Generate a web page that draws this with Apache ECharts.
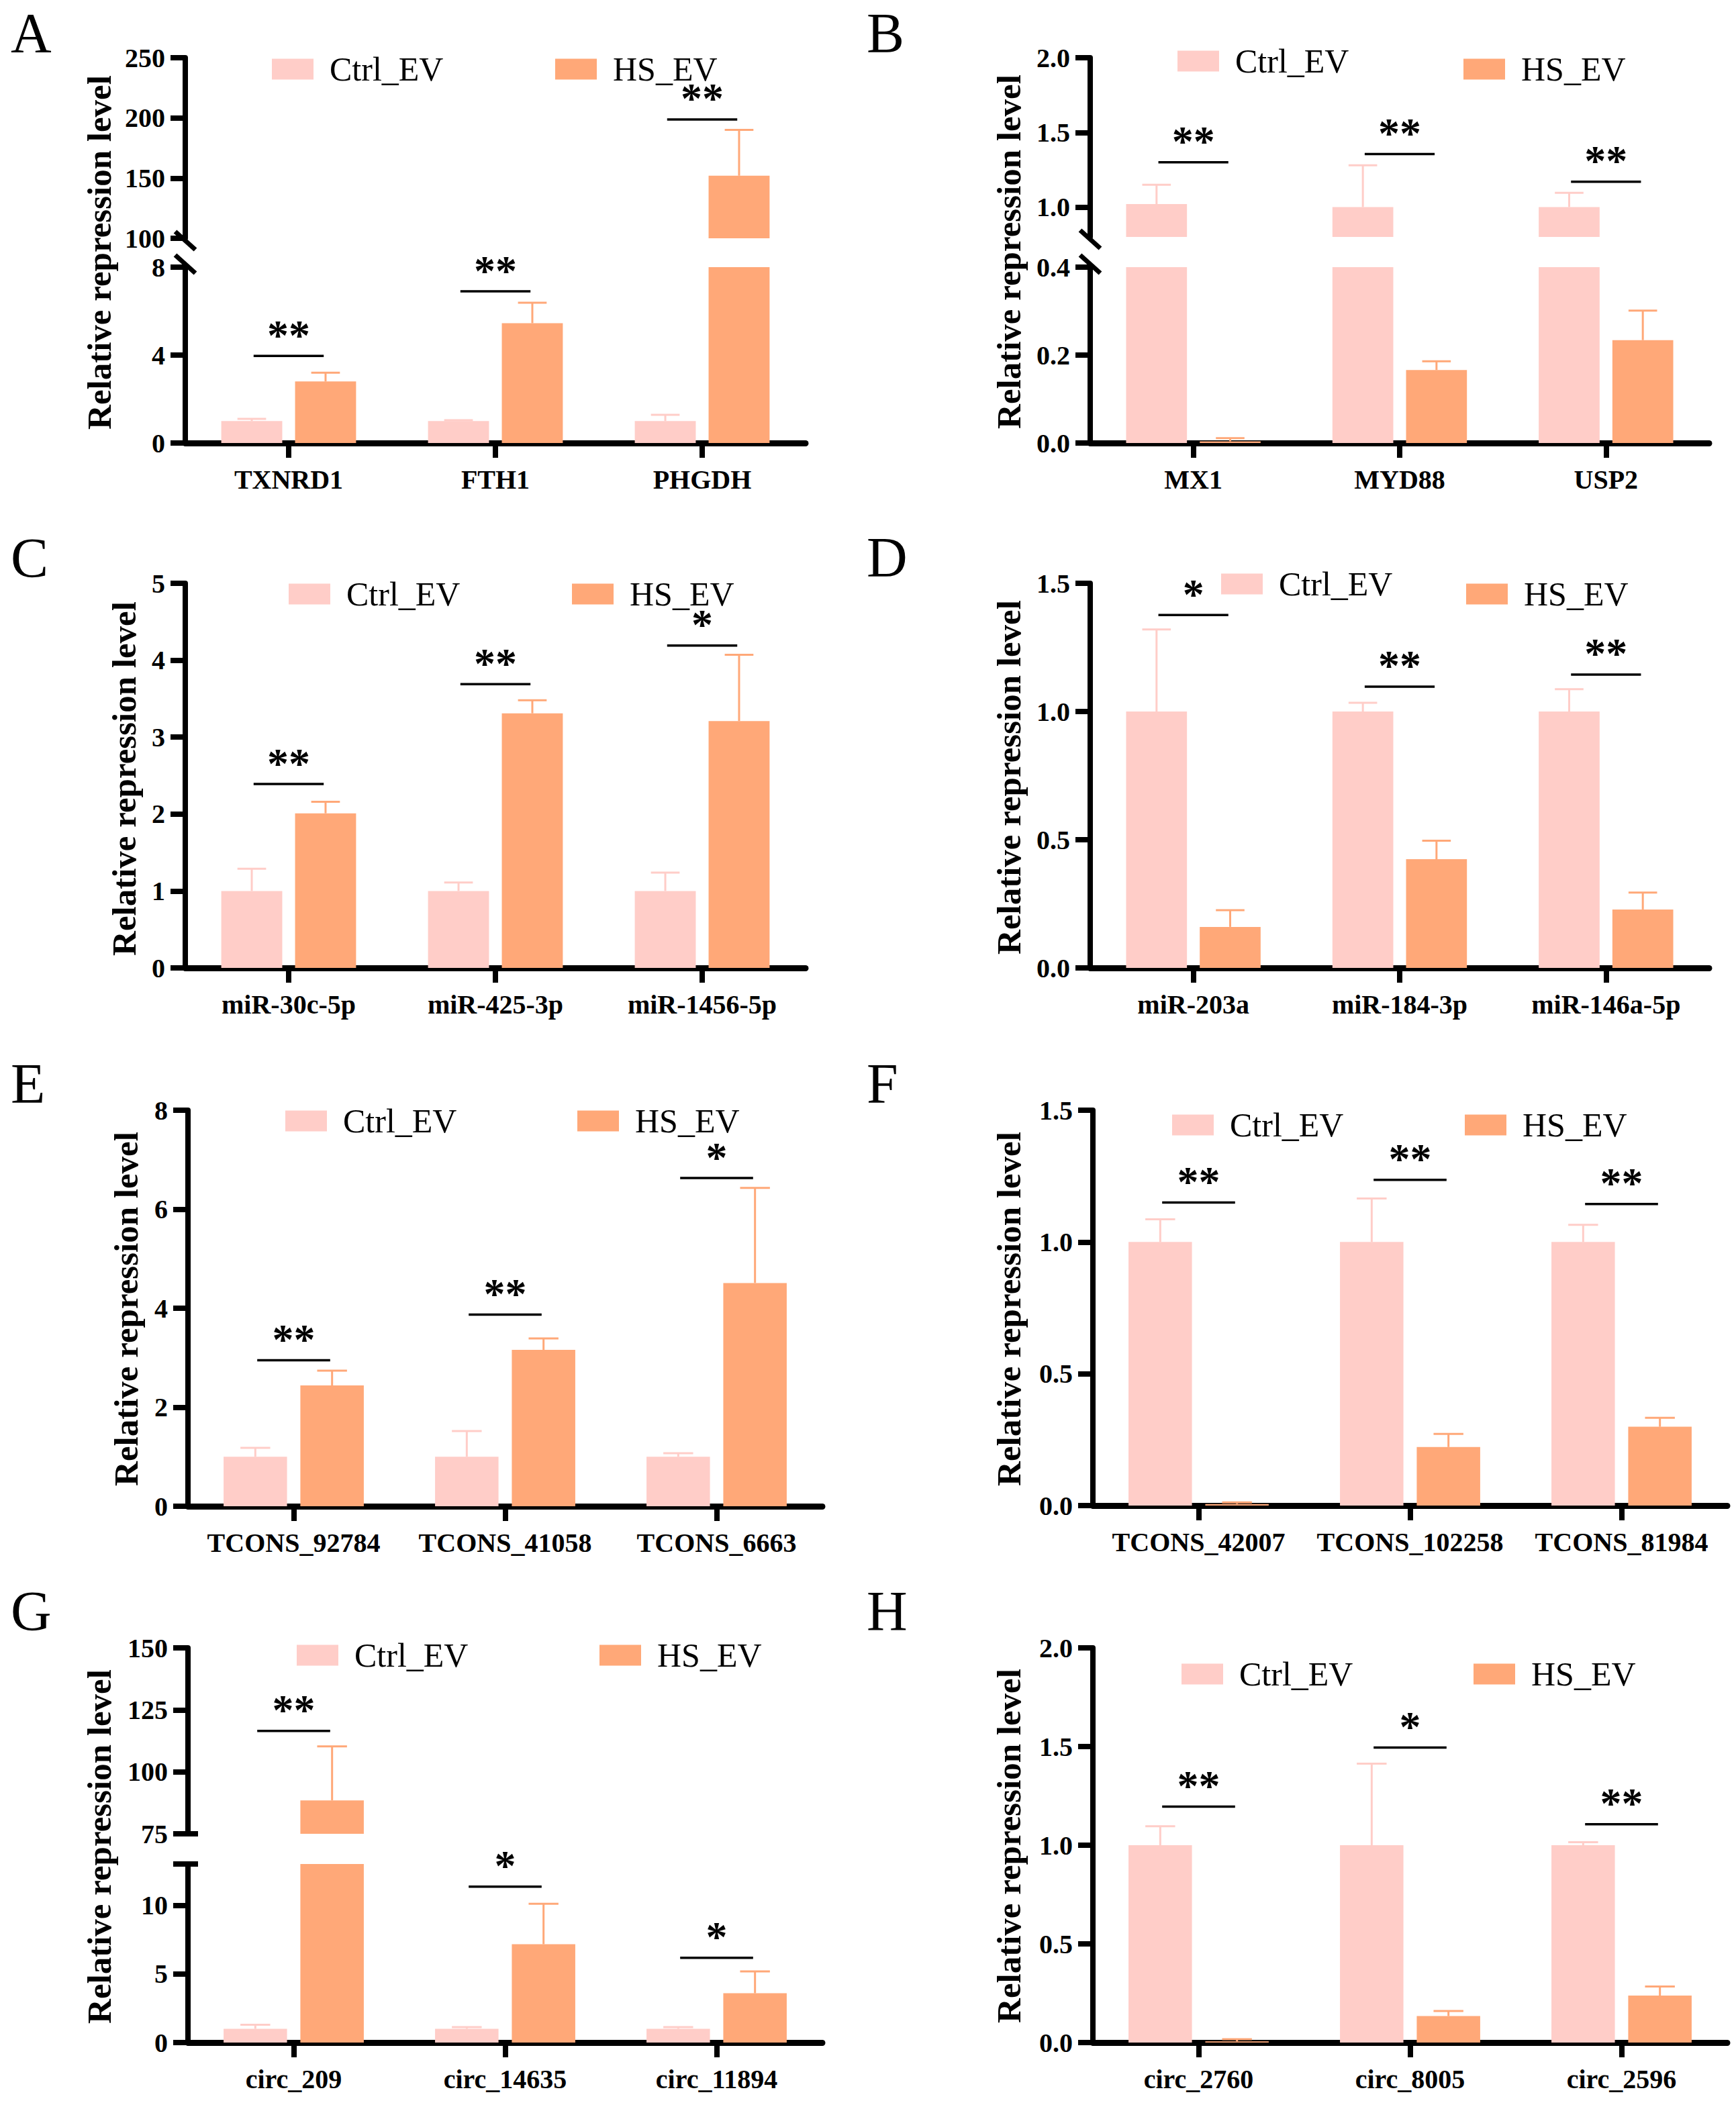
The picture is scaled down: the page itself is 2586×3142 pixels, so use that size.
<!DOCTYPE html>
<html>
<head>
<meta charset="utf-8">
<script src="https://cdn.jsdelivr.net/npm/echarts@6.0.0/dist/echarts.min.js"></script>
<style>
  html, body { margin: 0; padding: 0; background: #fff; }
  #chart { width: 2586px; height: 3142px; }
</style>
</head>
<body>
<div id="chart"></div>
<script>
const SERIF = '"Liberation Serif", "Times New Roman", serif';
const CTRL_COLOR = '#FFCDC8';
const HS_COLOR = '#FFA878';
const SERIES_NAMES = ['Ctrl_EV', 'HS_EV'];
const Y_TITLE = 'Relative repression level';

// ---- data ----
const catsA = ['TXNRD1', 'FTH1', 'PHGDH'];
const ctrlA = [1.0, 1.0, 1.0];
const ctrlErrA = [0.10, 0.04, 0.28];
const hsA = [2.8, 5.45, 152];
const hsErrA = [0.4, 0.93, 38];
const sigA = [3.96, 6.9, 198.7];
const starsA = ['**', '**', '**'];

const catsB = ['MX1', 'MYD88', 'USP2'];
const ctrlB = [1.02, 1.0, 1.0];
const ctrlErrB = [0.13, 0.28, 0.095];
const hsB = [0.004, 0.166, 0.234];
const hsErrB = [0.007, 0.02, 0.067];
const sigB = [1.3, 1.355, 1.17];
const starsB = ['**', '**', '**'];

const catsC = ['miR-30c-5p', 'miR-425-3p', 'miR-1456-5p'];
const ctrlC = [1.0, 1.0, 1.0];
const ctrlErrC = [0.29, 0.11, 0.24];
const hsC = [2.01, 3.31, 3.21];
const hsErrC = [0.15, 0.17, 0.86];
const sigC = [2.39, 3.69, 4.19];
const starsC = ['**', '**', '*'];

const catsD = ['miR-203a', 'miR-184-3p', 'miR-146a-5p'];
const ctrlD = [1.0, 1.0, 1.0];
const ctrlErrD = [0.32, 0.034, 0.087];
const hsD = [0.16, 0.424, 0.228];
const hsErrD = [0.065, 0.072, 0.066];
const sigD = [1.376, 1.097, 1.144];
const starsD = ['*', '**', '**'];

const catsE = ['TCONS_92784', 'TCONS_41058', 'TCONS_6663'];
const ctrlE = [1.0, 1.0, 1.0];
const ctrlErrE = [0.18, 0.52, 0.07];
const hsE = [2.44, 3.16, 4.51];
const hsErrE = [0.3, 0.23, 1.92];
const sigE = [2.95, 3.87, 6.63];
const starsE = ['**', '**', '*'];

const catsF = ['TCONS_42007', 'TCONS_102258', 'TCONS_81984'];
const ctrlF = [1.0, 1.0, 1.0];
const ctrlErrF = [0.086, 0.165, 0.065];
const hsF = [0.006, 0.222, 0.299];
const hsErrF = [0.006, 0.05, 0.034];
const sigF = [1.15, 1.236, 1.144];
const starsF = ['**', '**', '**'];

const catsG = ['circ_209', 'circ_14635', 'circ_11894'];
const ctrlG = [1.0, 1.0, 1.0];
const ctrlErrG = [0.3, 0.12, 0.12];
const hsG = [88.5, 7.16, 3.59];
const hsErrG = [21.8, 2.94, 1.59];
const sigG = [116.5, 11.35, 6.17];
const starsG = ['**', '*', '*'];

const catsH = ['circ_2760', 'circ_8005', 'circ_2596'];
const ctrlH = [1.0, 1.0, 1.0];
const ctrlErrH = [0.096, 0.413, 0.015];
const hsH = [0.006, 0.134, 0.238];
const hsErrH = [0.011, 0.026, 0.046];
const sigH = [1.196, 1.495, 1.106];
const starsH = ['**', '*', '**'];

// ---- layout (pixels) ----
const panels = [
  { letter: 'A', cats: catsA, ctrl: ctrlA, ctrlErr: ctrlErrA, hs: hsA, hsErr: hsErrA, sig: sigA, stars: starsA,
    left: 276, width: 924, bar: 0.295, letterAt: [16, 49], titleAt: [148, 376], legend: [[400, 99], [822, 99]],
    brk: 'slash',
    axes: [{ top: 86, bottom: 355, min: 100, max: 250, interval: 50, d: 0 },
           { top: 398, bottom: 660, min: 0, max: 8, interval: 4, d: 0 }] },
  { letter: 'B', cats: catsB, ctrl: ctrlB, ctrlErr: ctrlErrB, hs: hsB, hsErr: hsErrB, sig: sigB, stars: starsB,
    left: 1624, width: 922, bar: 0.295, letterAt: [1291, 49], titleAt: [1503, 375], legend: [[1749, 87], [2175, 99]],
    brk: 'slash',
    axes: [{ top: 86, bottom: 353, min: 0.8, max: 2.0, labels: [1.0, 1.5, 2.0], ticks: [1.0, 1.5, 2.0], d: 1 },
           { top: 398, bottom: 660, min: 0, max: 0.4, interval: 0.2, d: 1 }] },
  { letter: 'C', cats: catsC, ctrl: ctrlC, ctrlErr: ctrlErrC, hs: hsC, hsErr: hsErrC, sig: sigC, stars: starsC,
    left: 276, width: 924, bar: 0.295, letterAt: [16, 831], titleAt: [185, 1160], legend: [[425, 881], [847, 881]],
    axes: [{ top: 869, bottom: 1442, min: 0, max: 5, interval: 1, d: 0 }] },
  { letter: 'D', cats: catsD, ctrl: ctrlD, ctrlErr: ctrlErrD, hs: hsD, hsErr: hsErrD, sig: sigD, stars: starsD,
    left: 1624, width: 922, bar: 0.295, letterAt: [1291, 830], titleAt: [1503, 1158], legend: [[1814, 866], [2179, 881]],
    axes: [{ top: 869, bottom: 1442, min: 0, max: 1.5, interval: 0.5, d: 1 }] },
  { letter: 'E', cats: catsE, ctrl: ctrlE, ctrlErr: ctrlErrE, hs: hsE, hsErr: hsErrE, sig: sigE, stars: starsE,
    left: 280, width: 945, bar: 0.3, letterAt: [16, 1614], titleAt: [188, 1950], legend: [[420, 1666], [855, 1666]],
    axes: [{ top: 1654, bottom: 2244, min: 0, max: 8, interval: 2, d: 0 }] },
  { letter: 'F', cats: catsF, ctrl: ctrlF, ctrlErr: ctrlErrF, hs: hsF, hsErr: hsErrF, sig: sigF, stars: starsF,
    left: 1628, width: 945, bar: 0.3, letterAt: [1291, 1614], titleAt: [1503, 1950], legend: [[1741, 1672], [2177, 1672]],
    axes: [{ top: 1654, bottom: 2243, min: 0, max: 1.5, interval: 0.5, d: 1 }] },
  { letter: 'G', cats: catsG, ctrl: ctrlG, ctrlErr: ctrlErrG, hs: hsG, hsErr: hsErrG, sig: sigG, stars: starsG,
    left: 280, width: 945, bar: 0.3, letterAt: [16, 2400], titleAt: [148, 2751], legend: [[437, 2462], [888, 2462]],
    brk: 'cap',
    axes: [{ top: 2455, bottom: 2732, min: 75, max: 150, interval: 25, d: 0 },
           { top: 2777, bottom: 3043, min: 0, max: 13, labels: [0, 5, 10], ticks: [0, 5, 10, 13], d: 0 }] },
  { letter: 'H', cats: catsH, ctrl: ctrlH, ctrlErr: ctrlErrH, hs: hsH, hsErr: hsErrH, sig: sigH, stars: starsH,
    left: 1628, width: 945, bar: 0.3, letterAt: [1291, 2400], titleAt: [1503, 2750], legend: [[1755, 2490], [2190, 2490]],
    axes: [{ top: 2455, bottom: 3043, min: 0, max: 2.0, interval: 0.5, d: 1 }] }
];

const BAR_GAP = 0.21;

const grid = [], xAxis = [], yAxis = [], series = [], legend = [], graphic = [];

function errRenderer(frac) {
  return function (params, api) {
    const cat = api.value(0), v = api.value(1), e = api.value(2), side = api.value(3);
    const bw = api.size([1, 0])[0] * frac;
    const x = api.coord([cat, v])[0] + side * bw * (1 + BAR_GAP) / 2;
    const y0 = api.coord([cat, v])[1];
    const y1 = api.coord([cat, v + e])[1];
    const cap = bw * 0.235;
    const color = side < 0 ? CTRL_COLOR : HS_COLOR;
    return {
      type: 'group',
      children: [
        { type: 'line', shape: { x1: x, y1: y0, x2: x, y2: y1 }, style: { stroke: color, lineWidth: 3 } },
        { type: 'line', shape: { x1: x - cap, y1: y1, x2: x + cap, y2: y1 }, style: { stroke: color, lineWidth: 3 } }
      ]
    };
  };
}

function sigRenderer(frac, stars) {
  return function (params, api) {
    const cat = api.value(0), lv = api.value(1);
    const bw = api.size([1, 0])[0] * frac;
    const off = bw * (1 + BAR_GAP) / 2 * 0.95;
    const p = api.coord([cat, lv]);
    return {
      type: 'group',
      children: [
        { type: 'line', shape: { x1: p[0] - off, y1: p[1], x2: p[0] + off, y2: p[1] }, style: { stroke: '#000', lineWidth: 3.5 } },
        { type: 'text', x: p[0], y: p[1] - 31,
          style: { text: stars[cat], font: 'bold 64px ' + SERIF, lineHeight: 30, fill: '#000', align: 'center', verticalAlign: 'middle' } }
      ]
    };
  };
}

panels.forEach(pn => {
  const n = pn.axes.length;
  pn.axes.forEach((ax, k) => {
    const g = grid.length;
    const isBottom = k === n - 1;
    grid.push({ left: pn.left, top: ax.top, width: pn.width, height: ax.bottom - ax.top, outerBoundsMode: 'none' });
    xAxis.push({
      gridIndex: g, type: 'category', data: pn.cats, show: isBottom,
      axisLine: { show: true, lineStyle: { color: '#000', width: 9 } },
      axisTick: { show: true, alignWithLabel: true, length: 22, lineStyle: { color: '#000', width: 8 } },
      axisLabel: { color: '#000', fontFamily: SERIF, fontWeight: 'bold', fontSize: 40, margin: 34,
        interval: 0, hideOverlap: false },
      splitLine: { show: false }
    });
    const ya = {
      gridIndex: g, type: 'value', min: ax.min, max: ax.max,
      axisLine: { show: true, lineStyle: { color: '#000', width: 8 } },
      axisTick: { show: true, length: 22, lineStyle: { color: '#000', width: 8 } },
      axisLabel: { color: '#000', fontFamily: SERIF, fontWeight: 'bold', fontSize: 40, margin: 30,
        formatter: v => Number(v).toFixed(ax.d) },
      splitLine: { show: false }
    };
    if (ax.labels) {
      ya.axisLabel.customValues = ax.labels;
      ya.axisTick.customValues = ax.ticks;
    } else {
      ya.interval = ax.interval;
    }
    yAxis.push(ya);

    const inRange = v => v >= ax.min && v <= ax.max;
    const barData = arr => arr.map(v => (k < n - 1 && v <= ax.min) ? '-' : v);
    series.push({ name: SERIES_NAMES[0], type: 'bar', xAxisIndex: g, yAxisIndex: g, data: barData(pn.ctrl),
      barWidth: (pn.bar * 100) + '%', barGap: (BAR_GAP * 100) + '%', clip: true, silent: true,
      itemStyle: { color: CTRL_COLOR } });
    series.push({ name: SERIES_NAMES[1], type: 'bar', xAxisIndex: g, yAxisIndex: g, data: barData(pn.hs),
      barWidth: (pn.bar * 100) + '%', barGap: (BAR_GAP * 100) + '%', clip: true, silent: true,
      itemStyle: { color: HS_COLOR } });

    const errData = [];
    pn.ctrl.forEach((v, i) => { if (inRange(v)) errData.push([i, v, pn.ctrlErr[i], -1]); });
    pn.hs.forEach((v, i) => { if (inRange(v)) errData.push([i, v, pn.hsErr[i], 1]); });
    series.push({ type: 'custom', xAxisIndex: g, yAxisIndex: g, data: errData, z: 3, silent: true,
      encode: { x: 0, y: 1 }, renderItem: errRenderer(pn.bar) });

    const sigData = [];
    pn.sig.forEach((lv, i) => { if (inRange(lv)) sigData.push([i, lv]); });
    series.push({ type: 'custom', xAxisIndex: g, yAxisIndex: g, data: sigData, z: 4, silent: true,
      encode: { x: 0, y: 1 }, renderItem: sigRenderer(pn.bar, pn.stars) });
  });

  // legend: one component per item
  pn.legend.forEach((pos, j) => {
    legend.push({
      data: [SERIES_NAMES[j]], left: pos[0], top: pos[1] - 26, orient: 'horizontal',
      icon: 'rect', itemWidth: 62, itemHeight: 31, selectedMode: false,
      textStyle: { color: '#000', fontFamily: SERIF, fontSize: 50, padding: [0, 0, 0, 19] }
    });
  });

  graphic.push({ type: 'text', x: pn.letterAt[0], y: pn.letterAt[1],
    style: { text: pn.letter, font: '84px ' + SERIF, fill: '#000', align: 'left', verticalAlign: 'middle' } });
  graphic.push({ type: 'text', x: pn.titleAt[0], y: pn.titleAt[1], rotation: Math.PI / 2,
    style: { text: Y_TITLE, font: 'bold 51px ' + SERIF, fill: '#000', align: 'center', verticalAlign: 'middle' } });

  // axis break marks
  if (pn.brk) {
    const x = pn.left;
    const yu = pn.axes[0].bottom, yl = pn.axes[1].top;
    if (pn.brk === 'slash') {
      graphic.push({ type: 'line', shape: { x1: x - 15, y1: yu - 10, x2: x + 15, y2: yu + 17 }, style: { stroke: '#000', lineWidth: 7 } });
      graphic.push({ type: 'line', shape: { x1: x - 15, y1: yl - 18, x2: x + 15, y2: yl + 9 }, style: { stroke: '#000', lineWidth: 7 } });
    } else {
      graphic.push({ type: 'line', shape: { x1: x - 15, y1: yu, x2: x + 15, y2: yu }, style: { stroke: '#000', lineWidth: 8 } });
      graphic.push({ type: 'line', shape: { x1: x - 15, y1: yl, x2: x + 15, y2: yl }, style: { stroke: '#000', lineWidth: 8 } });
    }
  }
});

const chart = echarts.init(document.getElementById('chart'), null, { renderer: 'svg' });
chart.setOption({
  animation: false,
  backgroundColor: '#fff',
  grid: grid,
  xAxis: xAxis,
  yAxis: yAxis,
  legend: legend,
  series: series,
  graphic: graphic
});
</script>
</body>
</html>
